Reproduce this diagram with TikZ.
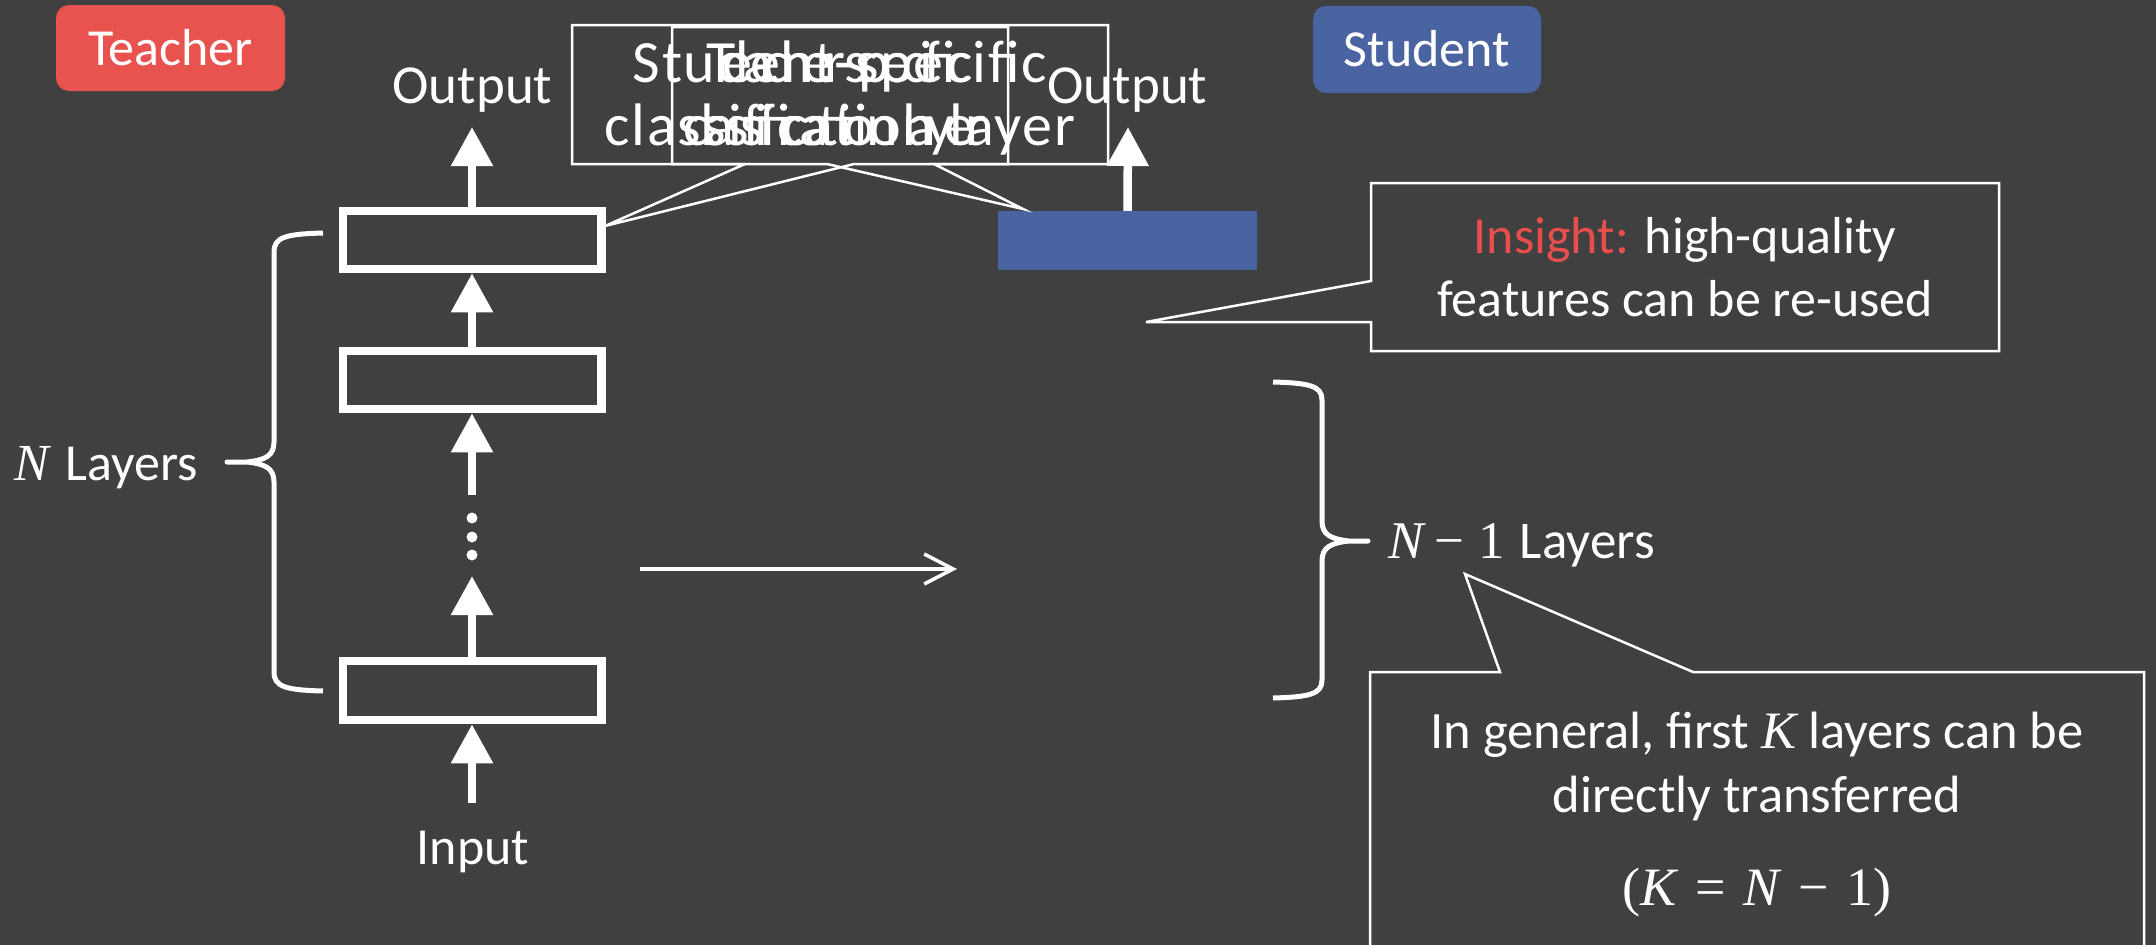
\documentclass[tikz,border=0pt]{standalone}
\usepackage{fontspec}
\setmainfont{Carlito}
\newfontfamily\mth{Liberation Serif}
\newfontfamily\widespc[LetterSpace=3]{Carlito}
\newfontfamily\tightspc[LetterSpace=-14.5]{Carlito}
\usetikzlibrary{arrows.meta}
\definecolor{bg}{HTML}{404040}
\definecolor{tred}{HTML}{E9534F}
\definecolor{sblue}{HTML}{4A63A1}
\definecolor{ired}{HTML}{E84F4C}
\newcommand\fs[1]{\fontsize{#1}{#1}\selectfont}

\begin{document}
\begin{tikzpicture}[x=1pt,y=-1pt,
  layerbox/.style={draw=white,line width=8.5pt,minimum width=258.5pt,minimum height=58pt,inner sep=0pt},
  flow/.style={white,line width=8.5pt,-{Triangle[length=39pt,width=40pt]}},
  lbl/.style={text=white,inner sep=0pt,anchor=base},
  tag/.style={rounded corners=13pt,inner sep=0pt,text=white,font=\fs{52},text height=34pt,text depth=0pt},
  bracepath/.style={draw=white,line width=5pt,line join=round},
  bubble/.style={draw=white,line width=2.5pt,line join=miter},
]
% canvas
\fill[bg] (0,0) rectangle (2156,945);
\useasboundingbox (0,0) rectangle (2156,945);

% header tags
\node[tag,fill=tred,minimum width=229pt,minimum height=86pt] (tteach) at (170.5,48) {Teacher};
\node[tag,fill=sblue,minimum width=228pt,minimum height=87pt] (tstud) at (1427,49.5) {Student};

% teacher network
\node[layerbox] (t1) at (472,240) {};
\node[layerbox] (t2) at (472,380) {};
\node[layerbox,minimum height=59pt] (t3) at (472,690.5) {};
\node[lbl,font=\fs{55}] (tout) at (472.5,103) {Output};
\node[lbl,font=\fs{52}] (tin) at (473,864) {Input};

\coordinate (toutTip) at (472,127);
\coordinate (upA) at (472,495);
\coordinate (upB) at (472,576);
\coordinate (inTail) at (472,803);
\draw[flow] (t1.north) -- (toutTip);
\draw[flow] (t2.north) -- (t1.south);
\draw[flow] (upA) -- (t2.south);
\draw[flow] (t3.north) -- (upB);
\draw[flow] (inTail) -- (t3.south);
\foreach \yy in {518,537,555} \fill[white] (472,\yy) circle (5.5);

% student network
\node[fill=sblue,minimum width=259pt,minimum height=59pt,inner sep=0pt] (s1) at (1127.5,240.5) {};
\node[lbl,font=\fs{55}] (sout) at (1127.5,103) {Output};
\coordinate (soutTip) at (1128,127);
\draw[flow] (s1.north) -- (soutTip);

% transfer arrow
\coordinate (tr0) at (640,569);
\coordinate (tr1) at (957,569);
\draw[white,line width=3.5pt,-{Straight Barb[length=29pt,width=30pt]}] (tr0) -- (tr1);

% braces
\draw[bracepath] (323,233) .. controls (286,234) and (274,237) .. (274,252) -- (274,442)
  .. controls (274,456) and (265,460) .. (247,462) -- (227,462) -- (247,462)
  .. controls (265,464) and (274,468) .. (274,482) -- (274,672)
  .. controls (274,687) and (286,690) .. (323,691);
\node[lbl,anchor=base west,font=\fs{52}] (nlay) at (14,480) {{\mth\itshape N}\hspace{17pt}Layers};

\draw[bracepath] (1273,382) .. controls (1310,383) and (1322,386) .. (1322,400) -- (1322,521)
  .. controls (1322,535) and (1331,539) .. (1349,541) -- (1368,541) -- (1349,541)
  .. controls (1331,543) and (1322,547) .. (1322,561) -- (1322,680)
  .. controls (1322,694) and (1310,697) .. (1273,698);
\node[lbl,anchor=base west,font=\fs{53}] (nmlay) at (1388,558)
  {{\mth\itshape N}\hspace{11pt}{\mth −}\hspace{14pt}{\mth 1}\hspace{15pt}Layers};

% classification-layer callouts
\coordinate (stuTip) at (1023,209);
\coordinate (teaTip) at (605,226);
\draw[bubble] (572,25) -- (1108,25) -- (1108,164) -- (934,164) -- (stuTip) -- (827,164) -- (572,164) -- cycle;
\draw[bubble] (672,27) -- (1008,27) -- (1008,164) -- (854,164) -- (teaTip) -- (745,164) -- (672,164) -- cycle;
\node[lbl,font=\widespc\fs{60}] (stu1) at (840,82) {Student-specific};
\node[lbl,font=\widespc\fs{60}] (stu2) at (840,145) {classification layer};
\node[lbl,font=\tightspc\fs{60}] (tea1) at (840,82) {Teacher-specific};
\node[lbl,font=\tightspc\fs{60}] (tea2) at (835,145) {classification layer};

% insight callout
\coordinate (insTip) at (1146,322);
\draw[bubble] (1371,183) -- (1999,183) -- (1999,351) -- (1371,351) -- (1371,322) -- (insTip) -- (1371,281) -- cycle;
\node[lbl,font=\fs{52}] (ins1) at (1685,253) {\textcolor{ired}{Insight:} high-quality};
\node[lbl,font=\fs{52}] (ins2) at (1685,316) {features can be re-used};

% transfer callout
\coordinate (kTip) at (1465,574);
\draw[bubble] (1370,960) -- (1370,672) -- (1500,672) -- (kTip) -- (1693,672) -- (2144,672) -- (2144,960);
\node[lbl,font=\fs{52.5}] (k1) at (1757,748) {In general, first {\mth\itshape K} layers can be};
\node[lbl,font=\fs{52.5}] (k2) at (1757,812) {directly transferred};
\node[lbl,font=\mth\fs{54}] (k3) at (1757,905)
  {(\textit{K}\hspace{17pt}=\hspace{17pt}\textit{N}\hspace{17pt}−\hspace{17pt}1)};
\end{tikzpicture}
\end{document}
